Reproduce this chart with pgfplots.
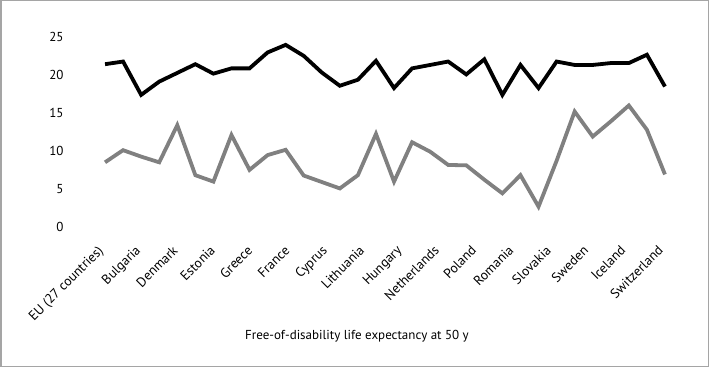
\documentclass[border=0pt]{standalone}
\usepackage{fontspec}
\setmainfont{PT Sans}
\usepackage{pgfplots}
\pgfplotsset{compat=1.18}
\usepackage{pgfplotstable}
\definecolor{linegray}{RGB}{128,128,128}
\definecolor{framegray}{RGB}{165,165,165}
\pgfplotstableread{
x y
0 21.45
1 21.8
2 17.4
3 19.15
4 20.3
5 21.45
6 20.2
7 20.9
8 20.9
9 23.0
10 24.0
11 22.55
12 20.35
13 18.6
14 19.4
15 21.9
16 18.3
17 20.9
18 21.35
19 21.8
20 20.1
21 22.1
22 17.4
23 21.35
24 18.3
25 21.8
26 21.35
27 21.35
28 21.6
29 21.6
30 22.7
31 18.5
}\blackdata
\pgfplotstableread{
x y
0 8.5
1 10.1
2 9.25
3 8.5
4 13.4
5 6.8
6 5.95
7 12.1
8 7.5
9 9.45
10 10.15
11 6.75
12 5.9
13 5.05
14 6.8
15 12.25
16 5.95
17 11.15
18 9.9
19 8.15
20 8.1
21 6.2
22 4.4
23 6.8
24 2.65
25 8.7
26 15.2
27 11.9
28 13.9
29 16.0
30 12.8
31 6.9
}\graydata
\begin{document}
\begin{tikzpicture}
\useasboundingbox (0,0) rectangle (709pt,367pt);
\draw[framegray, line width=1.5pt] (0.75pt,0.75pt) rectangle (708.25pt,366.25pt);
\begin{axis}[
  at={(96pt,140.3pt)}, anchor=south west,
  scale only axis, width=578pt, height=189.4pt,
  xmin=-0.5, xmax=31.5, ymin=0, ymax=25,
  axis line style={draw=none},
  major tick length=0pt,
  xtick={0,2.0667,4.1333,6.2,8.2667,10.3333,12.4,14.4667,16.5333,18.6,20.6667,22.7333,24.8,26.8667,28.9333,31},
  xticklabels={EU (27 countries),Bulgaria,Denmark,Estonia,Greece,France,Cyprus,Lithuania,Hungary,Netherlands,Poland,Romania,Slovakia,Sweden,Iceland,Switzerland},
  ytick={0,5,...,25},
  /pgf/number format/assume math mode=true,
  tick label style={font=\fontsize{13}{15}\selectfont},
  x tick label style={font=\fontsize{13.5}{15}\selectfont, xshift=-8pt, yshift=-13pt, rotate=45, anchor=north east},
  y tick label style={xshift=-29pt},
  xlabel={Free-of-disability life expectancy at 50 y},
  xlabel style={at={(axis description cs:0.4516,-0.58)}, anchor=center, font=\fontsize{13}{15}\selectfont},
]
\addplot[black, line width=3.8pt, no marks] table[x=x,y=y]{\blackdata};
\addplot[linegray, line width=3.8pt, no marks] table[x=x,y=y]{\graydata};
\end{axis}
\end{tikzpicture}
\end{document}
